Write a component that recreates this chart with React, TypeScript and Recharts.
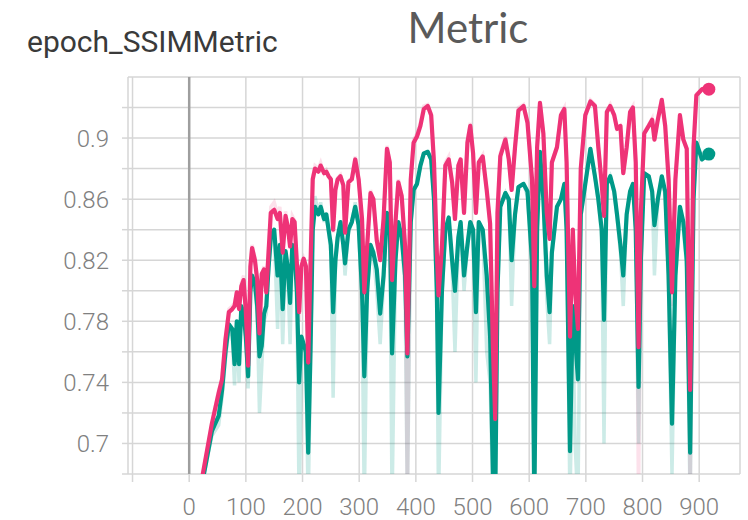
import React from 'react';
import { LineChart, Line, XAxis, YAxis, CartesianGrid, ReferenceLine } from 'recharts';

// training steps shared by both runs
const steps = [
  20, 25, 40, 52, 58, 64, 70, 76, 80, 84,
  88, 92, 96, 100, 104, 108, 111, 116, 120, 124,
  128, 132, 136, 140, 144, 150, 156, 160, 165, 170,
  174, 178, 182, 186, 190, 194, 198, 202, 206, 210,
  214, 218, 222, 228, 232, 238, 242, 246, 250, 254,
  258, 262, 267, 272, 275, 281, 287, 293, 299, 305,
  309, 314, 320, 325, 331, 337, 343, 349, 354, 358,
  364, 369, 375, 381, 385, 391, 396, 402, 408, 414,
  421, 427, 432, 437, 440, 446, 452, 458, 464, 469,
  475, 479, 485, 491, 496, 501, 506, 511, 518, 525,
  531, 536, 540, 544, 549, 558, 564, 569, 575, 581,
  590, 597, 605, 609, 614, 619, 625, 631, 636, 640,
  649, 656, 662, 666, 672, 677, 681, 686, 691, 699,
  708, 716, 722, 728, 732, 737, 743, 750, 755, 761,
  766, 772, 778, 783, 788, 793, 797, 803, 811, 817,
  821, 827, 834, 840, 846, 852, 858, 866, 872, 878,
  884, 890, 895, 905, 917,
];

const pinkSmoothed = [
  0.672, 0.682, 0.713, 0.733, 0.742, 0.768, 0.786, 0.788, 0.790, 0.799,
  0.788, 0.803, 0.807, 0.786, 0.751, 0.816, 0.828, 0.820, 0.807, 0.772,
  0.811, 0.814, 0.799, 0.825, 0.851, 0.853, 0.847, 0.851, 0.825, 0.849,
  0.842, 0.829, 0.847, 0.845, 0.818, 0.786, 0.816, 0.821, 0.816, 0.753,
  0.816, 0.873, 0.880, 0.878, 0.882, 0.877, 0.878, 0.875, 0.873, 0.840,
  0.866, 0.873, 0.875, 0.869, 0.838, 0.871, 0.873, 0.886, 0.873, 0.847,
  0.799, 0.829, 0.864, 0.860, 0.833, 0.820, 0.847, 0.893, 0.884, 0.807,
  0.845, 0.871, 0.862, 0.829, 0.759, 0.873, 0.897, 0.901, 0.908, 0.919,
  0.921, 0.915, 0.884, 0.825, 0.797, 0.829, 0.882, 0.886, 0.871, 0.847,
  0.882, 0.886, 0.851, 0.897, 0.908, 0.890, 0.851, 0.884, 0.888, 0.866,
  0.844, 0.763, 0.716, 0.851, 0.888, 0.899, 0.886, 0.866, 0.894, 0.918,
  0.921, 0.910, 0.873, 0.803, 0.894, 0.923, 0.903, 0.851, 0.834, 0.884,
  0.894, 0.915, 0.919, 0.884, 0.770, 0.840, 0.800, 0.775, 0.880, 0.915,
  0.924, 0.921, 0.894, 0.870, 0.849, 0.917, 0.921, 0.915, 0.906, 0.908,
  0.877, 0.894, 0.917, 0.920, 0.884, 0.763, 0.851, 0.903, 0.908, 0.912,
  0.899, 0.912, 0.925, 0.908, 0.873, 0.799, 0.873, 0.915, 0.899, 0.893,
  0.735, 0.894, 0.928, 0.932, 0.932,
];

const tealSmoothed = [
  0.670, 0.678, 0.708, 0.718, 0.735, 0.760, 0.778, 0.775, 0.752, 0.780,
  0.752, 0.790, 0.785, 0.770, 0.744, 0.800, 0.810, 0.805, 0.790, 0.757,
  0.764, 0.785, 0.790, 0.815, 0.835, 0.840, 0.810, 0.830, 0.788, 0.826,
  0.815, 0.792, 0.830, 0.825, 0.800, 0.740, 0.770, 0.765, 0.760, 0.694,
  0.760, 0.840, 0.855, 0.850, 0.855, 0.847, 0.850, 0.840, 0.830, 0.786,
  0.820, 0.835, 0.845, 0.830, 0.818, 0.840, 0.845, 0.855, 0.843, 0.800,
  0.744, 0.800, 0.830, 0.825, 0.814, 0.785, 0.810, 0.851, 0.845, 0.759,
  0.820, 0.845, 0.835, 0.810, 0.757, 0.845, 0.866, 0.870, 0.882, 0.890,
  0.891, 0.886, 0.860, 0.800, 0.720, 0.800, 0.840, 0.848, 0.820, 0.800,
  0.835, 0.845, 0.810, 0.830, 0.845, 0.840, 0.786, 0.845, 0.840, 0.810,
  0.770, 0.680, 0.660, 0.800, 0.855, 0.864, 0.860, 0.820, 0.850, 0.868,
  0.870, 0.865, 0.820, 0.660, 0.840, 0.891, 0.860, 0.810, 0.786, 0.825,
  0.855, 0.860, 0.870, 0.840, 0.695, 0.790, 0.770, 0.742, 0.850, 0.870,
  0.893, 0.875, 0.860, 0.840, 0.781, 0.870, 0.875, 0.865, 0.850, 0.830,
  0.810, 0.850, 0.865, 0.870, 0.840, 0.737, 0.820, 0.877, 0.875, 0.865,
  0.843, 0.860, 0.875, 0.865, 0.810, 0.713, 0.810, 0.855, 0.845, 0.820,
  0.694, 0.860, 0.897, 0.886, 0.8895,
];

// faded raw values drawn behind the smoothed curves
const pinkRaw = [
  0.672, 0.682, 0.713, 0.735, 0.742, 0.768, 0.788, 0.790, 0.792, 0.800,
  0.788, 0.805, 0.810, 0.786, 0.748, 0.818, 0.830, 0.822, 0.807, 0.770,
  0.811, 0.816, 0.799, 0.827, 0.855, 0.858, 0.850, 0.855, 0.825, 0.852,
  0.842, 0.829, 0.849, 0.846, 0.818, 0.780, 0.816, 0.821, 0.816, 0.745,
  0.816, 0.875, 0.882, 0.880, 0.884, 0.877, 0.879, 0.875, 0.873, 0.838,
  0.866, 0.874, 0.876, 0.869, 0.838, 0.872, 0.874, 0.888, 0.873, 0.847,
  0.795, 0.829, 0.866, 0.860, 0.833, 0.820, 0.847, 0.895, 0.884, 0.800,
  0.845, 0.873, 0.862, 0.829, 0.660, 0.875, 0.899, 0.903, 0.910, 0.921,
  0.922, 0.916, 0.884, 0.825, 0.790, 0.829, 0.884, 0.888, 0.871, 0.847,
  0.882, 0.887, 0.851, 0.899, 0.910, 0.890, 0.851, 0.885, 0.889, 0.866,
  0.844, 0.750, 0.690, 0.851, 0.890, 0.901, 0.886, 0.866, 0.895, 0.920,
  0.922, 0.910, 0.873, 0.795, 0.895, 0.924, 0.903, 0.851, 0.834, 0.884,
  0.895, 0.916, 0.920, 0.884, 0.760, 0.840, 0.795, 0.770, 0.880, 0.916,
  0.925, 0.922, 0.894, 0.870, 0.849, 0.918, 0.922, 0.915, 0.906, 0.908,
  0.877, 0.894, 0.918, 0.921, 0.884, 0.660, 0.851, 0.904, 0.909, 0.913,
  0.899, 0.913, 0.926, 0.908, 0.873, 0.790, 0.873, 0.916, 0.899, 0.893,
  0.660, 0.894, 0.929, 0.932, 0.932,
];

const tealRaw = [
  0.670, 0.678, 0.705, 0.712, 0.730, 0.755, 0.775, 0.770, 0.738, 0.778,
  0.740, 0.788, 0.780, 0.765, 0.736, 0.798, 0.808, 0.800, 0.785, 0.720,
  0.750, 0.780, 0.785, 0.812, 0.832, 0.838, 0.775, 0.828, 0.765, 0.824,
  0.810, 0.765, 0.828, 0.822, 0.795, 0.660, 0.760, 0.760, 0.750, 0.660,
  0.750, 0.838, 0.862, 0.850, 0.858, 0.845, 0.850, 0.838, 0.825, 0.730,
  0.815, 0.835, 0.845, 0.828, 0.810, 0.838, 0.845, 0.858, 0.840, 0.790,
  0.660, 0.795, 0.828, 0.822, 0.800, 0.765, 0.805, 0.850, 0.842, 0.660,
  0.815, 0.845, 0.832, 0.800, 0.660, 0.843, 0.866, 0.870, 0.882, 0.890,
  0.891, 0.886, 0.858, 0.790, 0.660, 0.795, 0.838, 0.848, 0.815, 0.760,
  0.832, 0.845, 0.800, 0.828, 0.845, 0.838, 0.740, 0.845, 0.840, 0.760,
  0.740, 0.660, 0.660, 0.790, 0.855, 0.864, 0.858, 0.790, 0.850, 0.868,
  0.870, 0.862, 0.810, 0.660, 0.838, 0.891, 0.858, 0.795, 0.765, 0.822,
  0.855, 0.860, 0.870, 0.835, 0.660, 0.780, 0.700, 0.660, 0.848, 0.870,
  0.893, 0.875, 0.858, 0.835, 0.700, 0.870, 0.875, 0.865, 0.848, 0.825,
  0.790, 0.850, 0.865, 0.870, 0.838, 0.700, 0.815, 0.877, 0.875, 0.865,
  0.810, 0.860, 0.875, 0.862, 0.800, 0.680, 0.805, 0.855, 0.840, 0.815,
  0.660, 0.858, 0.897, 0.886, 0.8895,
];

const xTicks = [-100, 0, 100, 200, 300, 400, 500, 600, 700, 800, 900];
const yTicks = [0.68, 0.7, 0.72, 0.74, 0.76, 0.78, 0.8, 0.82, 0.84, 0.86, 0.88, 0.9, 0.92];
const yLabels = [0.7, 0.74, 0.78, 0.82, 0.86, 0.9];

const PINK = '#ee3377';
const TEAL = '#009988';
const GRID = '#d6d6d6';
const TICK_TEXT = '#808080';

const rows = steps.map((step, i) => ({
  step,
  pink: pinkSmoothed[i],
  teal: tealSmoothed[i],
  pinkRaw: pinkRaw[i],
  tealRaw: tealRaw[i],
}));

const lastIndex = steps.length - 1;

const endDot = (color: string) => (props: any) => {
  const { cx, cy, index } = props;
  if (index !== lastIndex) return <g key={`dot-${color}-${index}`} />;
  return <circle key={`dot-${color}-${index}`} cx={cx} cy={cy} r={6.5} fill={color} />;
};

const tickStyle = { fontSize: 24, fill: TICK_TEXT, fontFamily: 'Roboto, sans-serif', fontWeight: 300 };

const App: React.FC = () => {
  return (
    <div style={{ position: 'absolute', left: 0, top: 0, width: 748, height: 520, background: '#fff' }}>
      <LineChart
        width={748}
        height={520}
        data={rows}
        margin={{ top: 77, right: 8, bottom: 6, left: 0 }}
      >
        <CartesianGrid stroke={GRID} strokeWidth={1.5} />
        <XAxis
          dataKey="step"
          type="number"
          domain={[-108, 972]}
          ticks={xTicks}
          tickFormatter={(v: number) => (v === -100 ? '' : String(v))}
          axisLine={false}
          tickLine={{ stroke: GRID, strokeWidth: 1.5 }}
          tickSize={8}
          tickMargin={16}
          height={40}
          tick={tickStyle}
          interval={0}
        />
        <YAxis
          type="number"
          domain={[0.68, 0.94]}
          allowDataOverflow
          ticks={yTicks}
          tickFormatter={(v: number) => (yLabels.includes(v) ? String(v) : '')}
          axisLine={false}
          tickLine={{ stroke: GRID, strokeWidth: 1.5 }}
          tickSize={6}
          tickMargin={13}
          width={128}
          tick={tickStyle}
          interval={0}
        />
        <ReferenceLine x={0} stroke="#9e9e9e" strokeWidth={2.5} />
        <Line
          dataKey="tealRaw"
          type="linear"
          stroke={TEAL}
          strokeOpacity={0.2}
          strokeWidth={3.5}
          dot={false}
          activeDot={false}
          isAnimationActive={false}
        />
        <Line
          dataKey="pinkRaw"
          type="linear"
          stroke={PINK}
          strokeOpacity={0.15}
          strokeWidth={3.5}
          dot={false}
          activeDot={false}
          isAnimationActive={false}
        />
        <Line
          dataKey="teal"
          type="linear"
          stroke={TEAL}
          strokeWidth={4.2}
          strokeLinejoin="round"
          dot={endDot(TEAL)}
          activeDot={false}
          isAnimationActive={false}
        />
        <Line
          dataKey="pink"
          type="linear"
          stroke={PINK}
          strokeWidth={4.2}
          strokeLinejoin="round"
          dot={endDot(PINK)}
          activeDot={false}
          isAnimationActive={false}
        />
      </LineChart>
      <svg
        width={748}
        height={70}
        style={{ position: 'absolute', left: 0, top: 0, pointerEvents: 'none' }}
      >
        <text x={27} y={52} fontFamily="Roboto, sans-serif" fontSize={30} fill="#3a3a3a">
          epoch_SSIMMetric
        </text>
        <text x={468} y={43} textAnchor="middle" fontFamily="Lato, sans-serif" fontSize={42} fill="#5a5a5a">
          Metric
        </text>
      </svg>
    </div>
  );
};

export default App;
